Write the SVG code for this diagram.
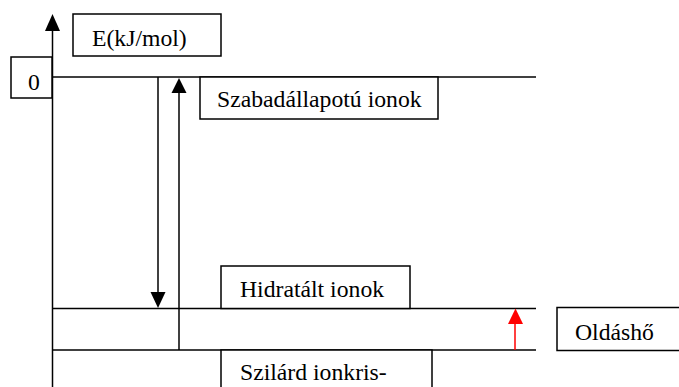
<svg xmlns="http://www.w3.org/2000/svg" width="679" height="387" viewBox="0 0 679 387">
<style>
.ln{stroke:#000;stroke-width:1.5;fill:none}
.bx{stroke:#000;stroke-width:1.5;fill:#fff}
.t{font-family:'Liberation Serif','Times New Roman',serif;font-size:23.7px;fill:#000}
</style>
<g id="levels">
<line class="ln" x1="52" y1="77" x2="536" y2="77"/>
<line class="ln" x1="52" y1="308.5" x2="536" y2="308.5"/>
<line class="ln" x1="52" y1="350" x2="536" y2="350"/>
</g>
<g id="axis">
<line class="ln" x1="52.5" y1="387" x2="52.5" y2="30"/>
<path d="M45,31 L52.5,14 L60,31 Z" fill="#000"/>
</g>
<g id="connectors">
<line class="ln" x1="158" y1="77" x2="158" y2="292"/>
<path d="M150.5,292 L158,308 L165.5,292 Z" fill="#000"/>
<line class="ln" x1="179" y1="350" x2="179" y2="93"/>
<path d="M171.5,93 L179,78 L186.5,93 Z" fill="#000"/>
<line x1="515" y1="350" x2="515" y2="324" stroke="#f00" stroke-width="1.5"/>
<path d="M508,324 L515.5,308.5 L523,324 Z" fill="#f00"/>
</g>
<g id="node-e">
<rect class="bx" x="73" y="14" width="148" height="42"/>
<text class="t" x="92" y="46">E(kJ/mol)</text>
</g>
<g id="node-0">
<rect class="bx" x="11" y="57" width="41" height="41"/>
<text class="t" x="28" y="90">0</text>
</g>
<g id="node-szabad">
<rect class="bx" x="200" y="77" width="238" height="42"/>
<text class="t" x="217" y="107">Szabadállapotú ionok</text>
</g>
<g id="node-hidratalt">
<rect class="bx" x="221" y="266" width="189" height="42.5"/>
<text class="t" x="240" y="297">Hidratált ionok</text>
</g>
<g id="node-szilard">
<rect class="bx" x="221" y="350" width="211" height="45"/>
<text class="t" x="240" y="380">Szilárd ionkris-</text>
</g>
<g id="node-oldasho">
<rect class="bx" x="557" y="307.5" width="130" height="43"/>
<text class="t" x="575" y="340">Oldáshő</text>
</g>
</svg>
